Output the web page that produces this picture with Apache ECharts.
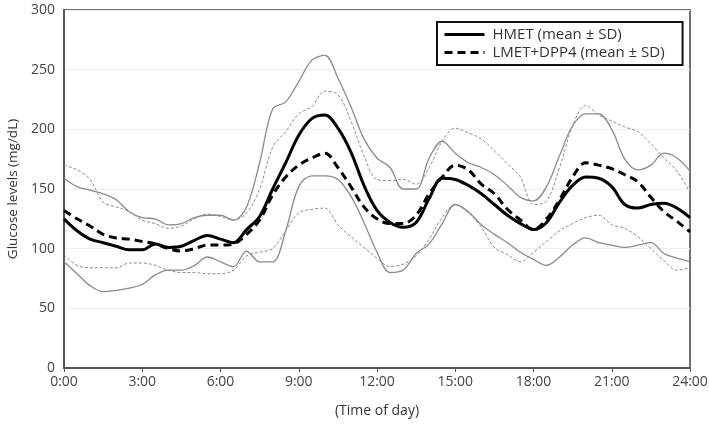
<!DOCTYPE html>
<html><head><meta charset="utf-8">
<script src="https://cdn.jsdelivr.net/npm/echarts@6/dist/echarts.min.js"></script>
<style>html,body{margin:0;padding:0;background:#fff}#c{width:709px;height:424px}</style>
</head><body><div id="c"></div>
<script>
const hours = [0,0.5,1,1.5,2,2.5,3,3.5,4,4.5,5,5.5,6,6.5,7,7.5,8,8.5,9,9.5,10,10.5,11,11.5,12,12.5,13,13.5,14,14.5,15,15.5,16,16.5,17,17.5,18,18.5,19,19.5,20,20.5,21,21.5,22,22.5,23,23.5,24];
const tickLabels = ['0:00','3:00','6:00','9:00','12:00','15:00','18:00','21:00','24:00'];
// HMET mean, upper (+SD), lower (-SD)
const hmetMean = [125,115,108,105,102,99,99,104,101,102,107,111,108,105,116,127,150,172,195,209,212,201,181,153,132,122,118,122,142,159,158,153,146,137,128,121,116,122,139,153,160,159,152,137,134,137,138,134,126];
const hmetUpper = [159,152,149,146,141,131,126,125,120,121,126,128,128,124,135,172,217,223,240,258,262,243,219,192,176,168,150,150,176,190,180,172,168,162,153,143,140,152,178,203,213,213,200,175,166,170,180,176,165];
const hmetLower = [89,79,69,64,65,67,70,78,82,82,86,93,89,85,98,89,89,115,152,161,161,158,144,122,97,80,82,96,104,121,137,131,120,112,105,97,91,86,93,103,109,105,103,101,103,105,96,92,89];
// LMET+DPP4 mean, upper, lower
const lmetMean = [132,125,119,112,109,108,106,104,100,98,100,103,103,104,112,124,145,160,170,176,180,168,152,135,125,121,121,128,146,160,170,166,154,146,133,124,116,125,141,160,172,170,167,162,156,143,131,123,114];
const lmetUpper = [170,166,158,139,135,131,124,121,117,119,125,129,127,124,130,150,185,198,213,219,232,229,207,178,158,157,158,154,168,190,201,197,192,182,171,160,137,140,168,203,220,212,207,202,198,188,176,165,147];
const lmetLower = [95,86,84,84,84,88,88,86,82,80,80,79,79,82,94,97,100,115,130,133,134,120,110,101,92,85,87,94,108,126,137,130,118,101,95,89,97,106,115,121,126,128,120,117,110,100,90,82,84];

const pts = arr => hours.map((h,i)=>[h, arr[i]]);
const FONT = '"Open Sans", "Noto Sans", sans-serif';
const thin = (name, arr, dashed) => ({
  name, type:'line', data: pts(arr), smooth: 0.35, symbol:'none', z: 2,
  lineStyle: {color:'#8a8a8a', width: dashed ? 1 : 1.3, type: dashed ? [3,2] : 'solid'}
});
const chart = echarts.init(document.getElementById('c'));
chart.setOption({
  animation:false,
  backgroundColor:'#fff',
  grid:{left:64,right:19,top:10,bottom:56,show:true,borderColor:'#444',borderWidth:1.5,outerBoundsMode:'none',containLabel:false},
  legend:{
    data:['HMET (mean ± SD)','LMET+DPP4 (mean ± SD)'],
    orient:'vertical', left:437, top:22,
    borderColor:'#111', borderWidth:2, padding:[5,18,5,6],
    itemWidth:40, itemHeight:14, itemGap:3,
    itemStyle:{opacity:0},
    lineStyle:{width:3},
    textStyle:{fontFamily:FONT, fontSize:15, color:'#333', padding:[0,0,0,3]}
  },
  xAxis:{
    type:'value', min:0, max:24, interval:3,
    name:'(Time of day)', nameLocation:'middle', nameGap:36,
    nameTextStyle:{fontFamily:FONT, fontSize:14, color:'#333'},
    axisLine:{lineStyle:{color:'#555',width:2}},
    axisTick:{show:true, length:4, lineStyle:{color:'#555'}},
    axisLabel:{fontFamily:FONT, fontSize:14, color:'#444', margin:7, formatter: v => tickLabels[Math.round(v/3)]},
    splitLine:{show:false}
  },
  yAxis:{
    type:'value', min:0, max:300, interval:50,
    name:'Glucose levels (mg/dL)', nameLocation:'middle', nameGap:44,
    nameTextStyle:{fontFamily:FONT, fontSize:13.5, color:'#333'},
    axisLine:{show:true, lineStyle:{color:'#555',width:2}},
    axisTick:{show:false},
    axisLabel:{fontFamily:FONT, fontSize:14, color:'#444', margin:9},
    splitLine:{show:true, lineStyle:{color:'#eeeeee', width:1}}
  },
  series:[
    thin('HMET +SD', hmetUpper, false),
    thin('HMET -SD', hmetLower, false),
    thin('LMET +SD', lmetUpper, true),
    thin('LMET -SD', lmetLower, true),
    {name:'HMET (mean ± SD)', type:'line', data:pts(hmetMean), smooth:0.35, symbol:'none', z:4,
      lineStyle:{color:'#000', width:3}, itemStyle:{color:'#000'}},
    {name:'LMET+DPP4 (mean ± SD)', type:'line', data:pts(lmetMean), smooth:0.35, symbol:'none', z:3,
      lineStyle:{color:'#000', width:3, type:[8,5]}, itemStyle:{color:'#000'}}
  ]
});
</script></body></html>
